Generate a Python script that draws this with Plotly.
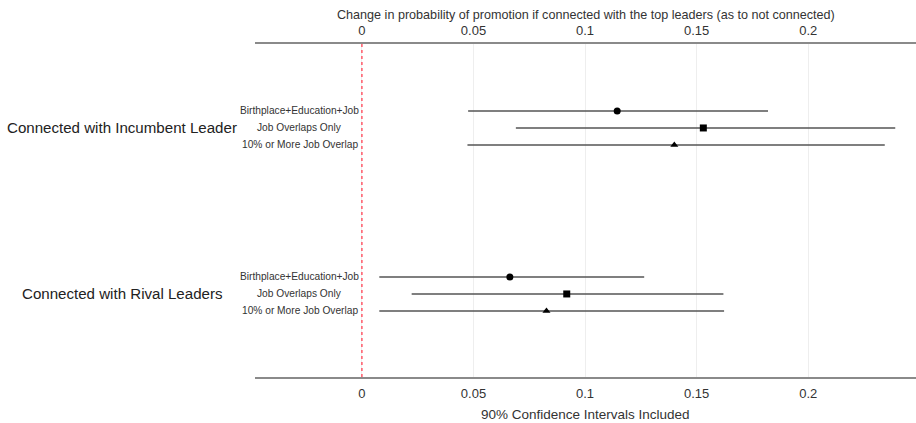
import plotly.graph_objects as go

groups = ["Connected with Incumbent Leader", "Connected with Rival Leaders"]
models = ["Birthplace+Education+Job", "Job Overlaps Only", "10% or More Job Overlap"]
symbols = ["circle", "square", "triangle-up"]

est_incumbent = [0.1144, 0.153, 0.140]
low_incumbent = [0.0476, 0.069, 0.0473]
high_incumbent = [0.182, 0.239, 0.2343]

est_rival = [0.0663, 0.0918, 0.0827]
low_rival = [0.0078, 0.0223, 0.0078]
high_rival = [0.1265, 0.162, 0.1623]

tick_vals = [0, 0.05, 0.1, 0.15, 0.2]
tick_text = ["0", "0.05", "0.1", "0.15", "0.2"]

top_title = "Change in probability of promotion if connected with the top leaders (as to not connected)"
bottom_title = "90% Confidence Intervals Included"

GROUP_GAP = 9.765
FONT = "Liberation Sans, Arial, Helvetica, sans-serif"
TXT = "#333333"

fig = go.Figure()
annotations = []
all_data = [(est_incumbent, low_incumbent, high_incumbent), (est_rival, low_rival, high_rival)]
for g, (est, lo, hi) in enumerate(all_data):
    ys = [g * GROUP_GAP + i for i in range(len(models))]
    for i in range(len(models)):
        fig.add_trace(go.Scatter(
            x=[est[i]], y=[ys[i]], mode="markers",
            marker=dict(symbol=symbols[i], color="black", size=7),
            error_x=dict(type="data", symmetric=False,
                         array=[hi[i] - est[i]], arrayminus=[est[i] - lo[i]],
                         width=0, thickness=1.6, color="#555555"),
            showlegend=False, hoverinfo="skip"))
        annotations.append(dict(x=-0.0278, y=ys[i], xref="x", yref="y", text=models[i],
                                showarrow=False, xanchor="center",
                                font=dict(size=10.2, color=TXT, family=FONT)))
    annotations.append(dict(x=-0.2012, y=ys[1], xref="paper", yref="y", text=groups[g],
                            showarrow=False, xanchor="center",
                            font=dict(size=15.1, color="#222222", family=FONT)))

annotations.append(dict(x=0.5, y=1.0856, xref="paper", yref="paper", text=top_title,
                        showarrow=False, xanchor="center", yanchor="middle",
                        font=dict(size=12.6, color=TXT, family=FONT)))
annotations.append(dict(x=0.5, y=-0.1141, xref="paper", yref="paper", text=bottom_title,
                        showarrow=False, xanchor="center", yanchor="middle",
                        font=dict(size=13.5, color=TXT, family=FONT)))

# invisible trace on top axis
fig.add_trace(go.Scatter(x=[0], y=[0], xaxis="x2", mode="markers",
                         marker=dict(opacity=0), showlegend=False, hoverinfo="skip"))

xr = [-0.0479, 0.2483]
common = dict(range=xr, tickvals=tick_vals, ticktext=tick_text, showgrid=True,
              gridcolor="#eeeeee", gridwidth=1, zeroline=False, showline=True,
              linecolor="#8a8a8a", linewidth=2, ticks="",
              tickfont=dict(size=13, color=TXT, family=FONT))

fig.update_layout(
    width=916, height=423,
    margin=dict(l=255, r=0, t=44, b=46),
    plot_bgcolor="white", paper_bgcolor="white",
    xaxis=dict(**common, side="bottom", ticklabelstandoff=3),
    xaxis2=dict(**common, side="top", overlaying="x", matches="x", ticklabelstandoff=2),
    yaxis=dict(range=[15.65, -3.94], showgrid=False, zeroline=False, showticklabels=False,
               showline=False),
    annotations=annotations,
    shapes=[dict(type="line", xref="x", yref="paper", x0=0, x1=0, y0=0, y1=1,
                 line=dict(color="#ff5a6a", width=1.5, dash="3px,3px"))],
)

fig.write_html("out.html")
